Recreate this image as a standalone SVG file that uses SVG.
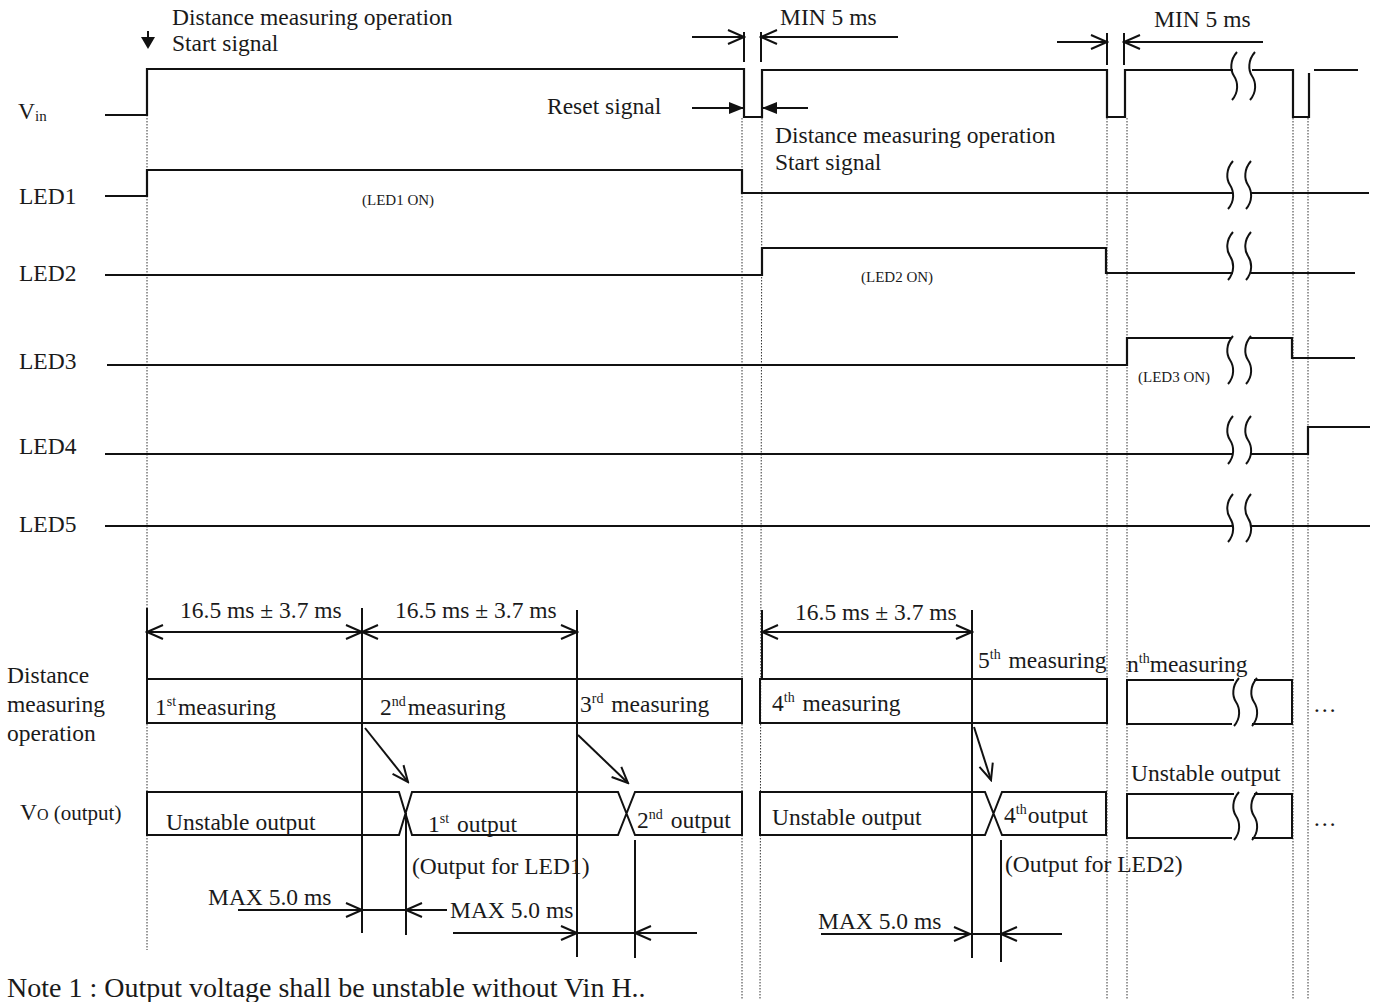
<svg xmlns="http://www.w3.org/2000/svg" width="1375" height="1002" viewBox="0 0 1375 1002">
<style>
text{font-family:"Liberation Serif","Times New Roman",serif;font-size:23.5px;fill:#1a1a1a}
.sm{font-size:15px}
.note{font-size:28px}
.sig{fill:none;stroke:#111;stroke-width:2.2}
.ln{fill:none;stroke:#111;stroke-width:2}
.dot{fill:none;stroke:#333;stroke-width:1;stroke-dasharray:1.5 1.5}
.dim{fill:none;stroke:#111;stroke-width:2;marker-start:url(#oa);marker-end:url(#oa)}
.ae{fill:none;stroke:#111;stroke-width:2;marker-end:url(#oa)}
.fe{fill:none;stroke:#111;stroke-width:2;marker-end:url(#fa)}
.sqp{fill:none;stroke:#111;stroke-width:2}
</style>
<defs>
<marker id="oa" viewBox="0 0 20 20" refX="18" refY="10" markerWidth="20" markerHeight="20" markerUnits="userSpaceOnUse" orient="auto-start-reverse"><path d="M2,3 L18,10 L2,17" fill="none" stroke="#111" stroke-width="2"/></marker>
<marker id="fa" viewBox="0 0 16 16" refX="15" refY="8" markerWidth="16" markerHeight="16" markerUnits="userSpaceOnUse" orient="auto"><path d="M0,2 L15,8 L0,14 Z" fill="#111"/></marker>
<g id="sq"><path class="sqp" d="M3,-24 C-4,-16 -4,-6 0,0 C4,6 5,16 -2,24"/><path class="sqp" d="M21,-24 C14,-16 14,-6 18,0 C22,6 23,16 16,24"/></g>
</defs>

<g id="guides">
<line class="dot" x1="147" y1="115" x2="147" y2="950"/>
<line class="dot" x1="742" y1="118" x2="742" y2="1000"/>
<line class="dot" x1="762" y1="118" x2="760" y2="1000"/>
<line class="dot" x1="1107" y1="118" x2="1107" y2="1000"/>
<line class="dot" x1="1127" y1="118" x2="1127" y2="1000"/>
<line class="dot" x1="1293" y1="118" x2="1293" y2="1000"/>
<line class="dot" x1="1308" y1="118" x2="1308" y2="1000"/>
</g>

<g id="top-annotations">
<text x="172" y="25">Distance measuring operation</text>
<text x="172" y="51">Start signal</text>
<line class="ln" x1="148" y1="31" x2="148" y2="39"/>
<polygon points="141,37 155,37 148,49" fill="#111"/>
<text x="780" y="25">MIN 5 ms</text>
<line class="ln" x1="744" y1="32" x2="744" y2="62"/>
<line class="ln" x1="761" y1="32" x2="761" y2="62"/>
<line class="ae" x1="692" y1="37" x2="744" y2="37"/>
<line class="ae" x1="898" y1="37" x2="761" y2="37"/>
<text x="1154" y="27">MIN 5 ms</text>
<line class="ln" x1="1107" y1="33" x2="1107" y2="65"/>
<line class="ln" x1="1124" y1="33" x2="1124" y2="65"/>
<line class="ae" x1="1057" y1="42" x2="1107" y2="42"/>
<line class="ae" x1="1263" y1="42" x2="1124" y2="42"/>
<text x="547" y="114">Reset signal</text>
<line class="fe" x1="692" y1="108" x2="744" y2="108"/>
<line class="fe" x1="808" y1="108" x2="762" y2="108"/>
<text x="775" y="143">Distance measuring operation</text>
<text x="775" y="170">Start signal</text>
</g>

<g id="vin">
<text x="18" y="119">V<tspan font-size="15" dy="2">in</tspan></text>
<path class="sig" d="M105,115 H147 V69 H744 V117 H762 V70 H1107 V117 H1125 V70 H1233 M1252,70 H1293 V117 H1309 V73 M1314,70 H1358"/>
<use href="#sq" x="1234" y="76"/>
</g>

<g id="led1">
<text x="19" y="204">LED1</text>
<path class="sig" d="M105,196 H147 V170 H742 V193 H1233 M1251,193 H1369"/>
<use href="#sq" x="1230" y="185"/>
<text class="sm" x="362" y="205">(LED1 ON)</text>
</g>

<g id="led2">
<text x="19" y="281">LED2</text>
<path class="sig" d="M105,275 H762 V248 H1106 V273 H1233 M1251,273 H1355"/>
<use href="#sq" x="1230" y="256"/>
<text class="sm" x="861" y="282">(LED2 ON)</text>
</g>

<g id="led3">
<text x="19" y="369">LED3</text>
<path class="sig" d="M107,365 H1127 V338 H1232 M1250,338 H1292 V358 H1355"/>
<use href="#sq" x="1230" y="360"/>
<text class="sm" x="1138" y="382">(LED3 ON)</text>
</g>

<g id="led4">
<text x="19" y="454">LED4</text>
<path class="sig" d="M105,454 H1233 M1251,454 H1308 V427 H1370"/>
<use href="#sq" x="1230" y="440"/>
</g>

<g id="led5">
<text x="19" y="532">LED5</text>
<path class="sig" d="M105,526 H1233 M1251,526 H1370"/>
<use href="#sq" x="1230" y="518"/>
</g>

<g id="measuring">
<text x="7" y="683">Distance</text>
<text x="7" y="712">measuring</text>
<text x="7" y="741">operation</text>
<path class="ln" d="M147,679 H742 V723 H147 Z"/>
<path class="ln" d="M760,679 H1107 V723 H760 Z"/>
<path class="ln" d="M1234,680 H1127 V724 H1232 M1254,680 H1292 V724 H1252"/>
<use href="#sq" x="1236" y="702"/>
<text x="155" y="715">1<tspan font-size="14" dy="-9">st</tspan><tspan dy="9" dx="2">measuring</tspan></text>
<text x="380" y="715">2<tspan font-size="14" dy="-9">nd</tspan><tspan dy="9" dx="2">measuring</tspan></text>
<text x="580" y="712">3<tspan font-size="14" dy="-9">rd</tspan><tspan dy="9" dx="2"> measuring</tspan></text>
<text x="772" y="711">4<tspan font-size="14" dy="-9">th</tspan><tspan dy="9" dx="2"> measuring</tspan></text>
<text x="978" y="668">5<tspan font-size="14" dy="-9">th</tspan><tspan dy="9" dx="2"> measuring</tspan></text>
<text x="1127" y="672">n<tspan font-size="14" dy="-9">th</tspan><tspan dy="9">measuring</tspan></text>
<text x="1313" y="712">…</text>
</g>

<g id="dimensions">
<line class="ln" x1="147" y1="608" x2="147" y2="679"/>
<line class="ln" x1="362" y1="608" x2="362" y2="933"/>
<line class="ln" x1="577" y1="610" x2="577" y2="957"/>
<line class="ln" x1="762" y1="610" x2="762" y2="679"/>
<line class="ln" x1="972" y1="610" x2="972" y2="958"/>
<line class="dim" x1="147" y1="632" x2="362" y2="632"/>
<line class="dim" x1="362" y1="632" x2="577" y2="632"/>
<line class="dim" x1="762" y1="632" x2="972" y2="632"/>
<text x="180" y="618">16.5 ms ± 3.7 ms</text>
<text x="395" y="618">16.5 ms ± 3.7 ms</text>
<text x="795" y="620">16.5 ms ± 3.7 ms</text>
</g>

<g id="vo">
<text x="20" y="820">V<tspan font-size="16">O</tspan><tspan font-size="21"> (output)</tspan></text>
<path class="ln" d="M147,792 H399 L412,835 H618 L635,792 H742 V835 H635 L618,792 H412 L399,835 H147 Z"/>
<path class="ln" d="M760,792 H985 L1002,835 H1106 V792 H1002 L985,835 H760 Z"/>
<path class="ln" d="M1234,794 H1127 V838 H1232 M1254,794 H1292 V838 H1252"/>
<use href="#sq" x="1236" y="816"/>
<text x="166" y="830">Unstable output</text>
<text x="428" y="832">1<tspan font-size="14" dy="-9">st</tspan><tspan dy="9" dx="2"> output</tspan></text>
<text x="637" y="828">2<tspan font-size="14" dy="-9">nd</tspan><tspan dy="9" dx="2"> output</tspan></text>
<text x="772" y="825">Unstable output</text>
<text x="1004" y="823">4<tspan font-size="14" dy="-9">th</tspan><tspan dy="9" dx="1">output</tspan></text>
<text x="1131" y="781">Unstable output</text>
<text x="1313" y="826">…</text>
<text x="412" y="874" font-size="21">(Output for LED1)</text>
<text x="1005" y="872" font-size="21">(Output for LED2)</text>
</g>

<g id="connectors">
<line class="ae" x1="365" y1="728" x2="408" y2="782"/>
<line class="ae" x1="578" y1="735" x2="628" y2="783"/>
<line class="ae" x1="974" y1="727" x2="991" y2="780"/>
<line class="ln" x1="406" y1="813" x2="406" y2="935"/>
<line class="ln" x1="635" y1="840" x2="635" y2="958"/>
<line class="ln" x1="1001" y1="840" x2="1001" y2="962"/>
<line class="ae" x1="238" y1="910" x2="362" y2="910"/>
<line class="ln" x1="362" y1="910" x2="406" y2="910"/>
<line class="ae" x1="447" y1="910" x2="406" y2="910"/>
<line class="ae" x1="453" y1="933" x2="577" y2="933"/>
<line class="ln" x1="577" y1="933" x2="635" y2="933"/>
<line class="ae" x1="697" y1="933" x2="635" y2="933"/>
<line class="ae" x1="821" y1="934" x2="970" y2="934"/>
<line class="ln" x1="970" y1="934" x2="1001" y2="934"/>
<line class="ae" x1="1062" y1="934" x2="1001" y2="934"/>
<text x="208" y="905">MAX 5.0 ms</text>
<text x="450" y="918">MAX 5.0 ms</text>
<text x="818" y="929">MAX 5.0 ms</text>
</g>

<text class="note" x="7" y="997">Note 1 : Output voltage shall be unstable without Vin H..</text>
</svg>
